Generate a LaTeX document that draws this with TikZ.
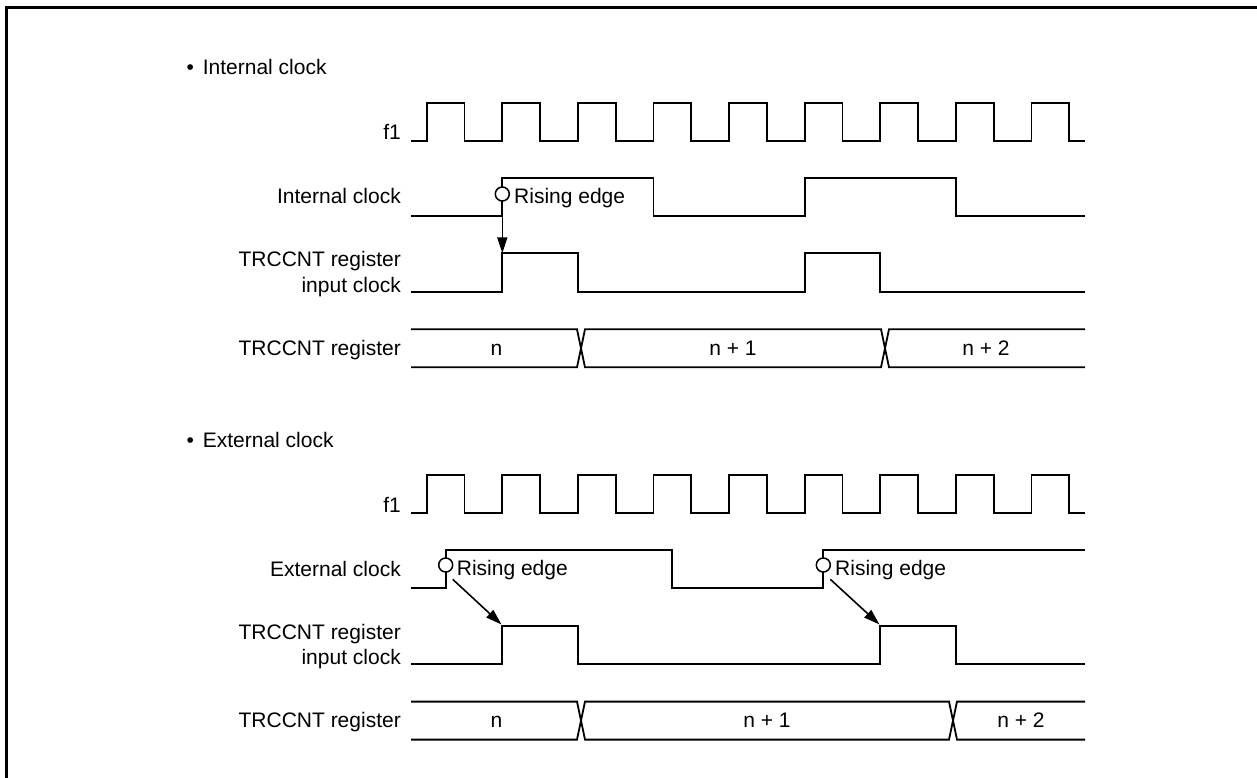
\documentclass[tikz,border=0pt]{standalone}
\usepackage{fontspec}
\setmainfont{Liberation Sans}
\usetikzlibrary{arrows.meta}
\tikzset{
  wave/.style={line width=1.8pt, line join=miter},
  lbl/.style={anchor=base east, inner sep=0pt, align=right},
  val/.style={anchor=base, inner sep=0pt},
  edgetxt/.style={anchor=base west, inner sep=0pt},
  head/.style={anchor=base west, inner sep=0pt},
  ring/.style={draw, circle, fill=white, line width=1.5pt, minimum size=14pt, inner sep=0pt},
  pointer/.style={line width=1.6pt, -{Triangle[length=16pt,width=10pt]}},
  frame/.style={line width=3pt}
}
\begin{document}
\begin{tikzpicture}[x=1pt, y=-1pt, font=\fontsize{21}{25.6}\selectfont]
\useasboundingbox (0,0) rectangle (1257,778);
\draw[frame] (6.5,778) -- (6.5,7.5) -- (1257,7.5);

% ---------------- Internal clock section ----------------
\node[head] (h1) at (186.3,75) {•\kern9pt Internal clock};
\node[lbl] (l1) at (401,140) {f1};
\node[lbl] (l2) at (401,204) {Internal clock};
\node[lbl] (l3) at (401,292.3) {TRCCNT register\\input clock};
\node[lbl] (l4) at (401,355) {TRCCNT register};

% f1
\draw[wave] (411,140.7) foreach \k in {0,...,8} {
  -- ({426.7+75.6*\k},140.7) -- ({426.7+75.6*\k},102.7)
  -- ({464.5+75.6*\k},102.7) -- ({464.5+75.6*\k},140.7) } -- (1085,140.7);
% internal clock
\draw[wave] (411,216) -- (502.3,216) -- (502.3,177.7) -- (653.5,177.7) -- (653.5,216)
  -- (804.7,216) -- (804.7,177.7) -- (955.9,177.7) -- (955.9,216) -- (1085,216);
% TRCCNT input clock
\draw[wave] (411,291.7) -- (502.3,291.7) -- (502.3,253.3) -- (577.9,253.3) -- (577.9,291.7)
  -- (804.7,291.7) -- (804.7,253.3) -- (880.3,253.3) -- (880.3,291.7) -- (1085,291.7);
% TRCCNT register bus
\draw[wave] (411,329.3) -- (577,329.3) -- (585,367.3) -- (881,367.3) -- (889,329.3) -- (1085,329.3);
\draw[wave] (411,367.3) -- (577,367.3) -- (585,329.3) -- (881,329.3) -- (889,367.3) -- (1085,367.3);
\node[val] (v1) at (496.5,355) {n};
\node[val] (v2) at (733,355) {n + 1};
\node[val] (v3) at (986,355) {n + 2};

\node[ring] (c1) at (502.3,194) {};
\coordinate (t1) at (502.3,253.3);
\draw[pointer] (c1.south) -- (t1);
\node[edgetxt] (e1) at (514,203.3) {Rising edge};

% ---------------- External clock section ----------------
\node[head] (h2) at (186.3,447.3) {•\kern9pt External clock};
\node[lbl] (m1) at (401,512.3) {f1};
\node[lbl] (m2) at (401,576.3) {External clock};
\node[lbl] (m3) at (401,664.6) {TRCCNT register\\input clock};
\node[lbl] (m4) at (401,727.3) {TRCCNT register};

% f1
\draw[wave] (411,513) foreach \k in {0,...,8} {
  -- ({426.7+75.6*\k},513) -- ({426.7+75.6*\k},475)
  -- ({464.5+75.6*\k},475) -- ({464.5+75.6*\k},513) } -- (1085,513);
% external clock
\draw[wave] (411,588.3) -- (445.7,588.3) -- (445.7,550) -- (672.3,550) -- (672.3,588.3)
  -- (823.3,588.3) -- (823.3,550) -- (1085,550);
% TRCCNT input clock
\draw[wave] (411,664) -- (502.3,664) -- (502.3,625.6) -- (577.9,625.6) -- (577.9,664)
  -- (880.3,664) -- (880.3,625.6) -- (955.9,625.6) -- (955.9,664) -- (1085,664);
% TRCCNT register bus
\draw[wave] (411,701.6) -- (577,701.6) -- (585,739.6) -- (949,739.6) -- (957,701.6) -- (1085,701.6);
\draw[wave] (411,739.6) -- (577,739.6) -- (585,701.6) -- (949,701.6) -- (957,739.6) -- (1085,739.6);
\node[val] (w1) at (496.5,727.3) {n};
\node[val] (w2) at (767,727.3) {n + 1};
\node[val] (w3) at (1021,727.3) {n + 2};

\node[ring] (c3) at (445.7,565) {};
\coordinate (s3) at (452.7,579.3);
\coordinate (t3) at (501.5,624.5);
\draw[pointer] (s3) -- (t3);
\node[edgetxt] (e3) at (456.7,575) {Rising edge};

\node[ring] (c4) at (823.3,565) {};
\coordinate (s4) at (830.3,579.3);
\coordinate (t4) at (879.5,624.5);
\draw[pointer] (s4) -- (t4);
\node[edgetxt] (e4) at (835,575) {Rising edge};
\end{tikzpicture}
\end{document}
